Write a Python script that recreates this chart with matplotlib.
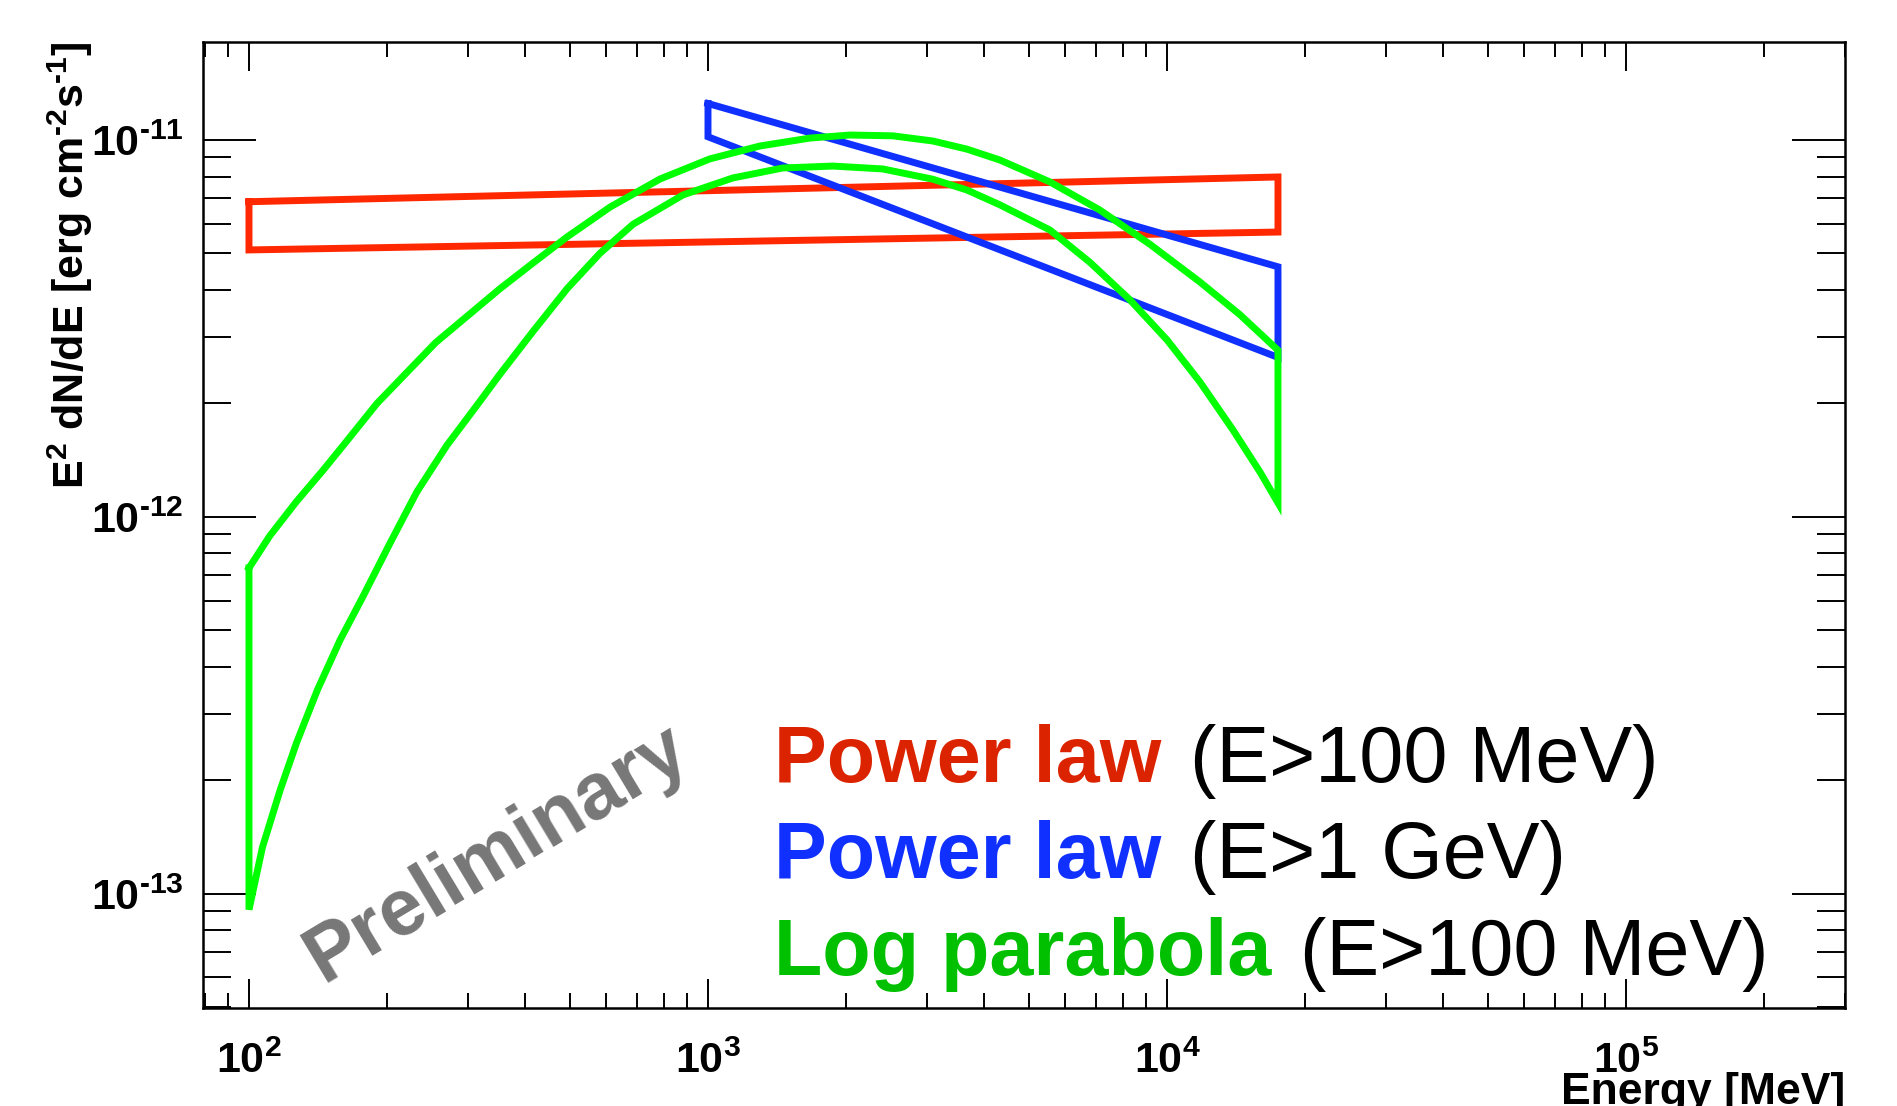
import numpy as np
import matplotlib
matplotlib.use("Agg")
import matplotlib.pyplot as plt
from matplotlib.ticker import LogLocator, FuncFormatter, NullFormatter

plt.rcParams['font.family'] = 'Liberation Sans'
plt.rcParams['mathtext.fontset'] = 'custom'
plt.rcParams['mathtext.rm'] = 'Liberation Sans:bold'
plt.rcParams['mathtext.it'] = 'Liberation Sans:bold'
plt.rcParams['mathtext.bf'] = 'Liberation Sans:bold'
plt.rcParams['mathtext.default'] = 'rm'

# power law, E>100 MeV (butterfly edges)
red_e = [100, 17450]
red_hi = [6.86e-12, 7.98e-12]
red_lo = [5.11e-12, 5.70e-12]

# power law, E>1 GeV
blue_e = [1000, 17450]
blue_hi = [1.25e-11, 4.61e-12]
blue_lo = [1.02e-11, 2.65e-12]

# log parabola band, upper and lower edge
green_hi_e = [100, 111, 127, 145, 164, 190, 255, 352, 416, 493, 612, 786, 1009, 1297,
              1667, 2038, 2528, 3090, 3664, 4325, 5560, 7140, 9180, 11800, 14420, 17450]
green_hi = [7.32e-13, 8.91e-13, 1.10e-12, 1.33e-12, 1.60e-12, 2.00e-12, 2.90e-12, 4.03e-12,
            4.72e-12, 5.53e-12, 6.64e-12, 7.88e-12, 8.91e-12, 9.64e-12, 1.012e-11, 1.031e-11,
            1.026e-11, 9.94e-12, 9.46e-12, 8.85e-12, 7.74e-12, 6.52e-12, 5.29e-12, 4.20e-12,
            3.44e-12, 2.77e-12]
green_lo_e = [100, 107, 117, 127, 141, 158, 177, 203, 232, 270, 314, 352, 416, 493, 582, 687,
              882, 1132, 1455, 1870, 2404, 3090, 3664, 4325, 5560, 6790, 8300, 10000, 11800,
              13930, 15950, 17450]
green_lo = [9.08e-14, 1.33e-13, 1.89e-13, 2.52e-13, 3.48e-13, 4.72e-13, 6.14e-13, 8.53e-13,
            1.164e-12, 1.55e-12, 1.98e-12, 2.39e-12, 3.11e-12, 4.03e-12, 5.01e-12, 5.98e-12,
            7.15e-12, 7.93e-12, 8.43e-12, 8.53e-12, 8.38e-12, 7.87e-12, 7.37e-12, 6.73e-12,
            5.77e-12, 4.74e-12, 3.77e-12, 2.95e-12, 2.28e-12, 1.70e-12, 1.315e-12, 1.09e-12]

legend_bold = ["Power law", "Power law", "Log parabola"]
legend_rest = ["(E>100 MeV)", "(E>1 GeV)", "(E>100 MeV)"]
legend_colors = ["#dc2300", "#1030ff", "#00c000"]


def band(e_hi, hi, e_lo, lo):
    # closed outline: upper edge, then lower edge backwards
    x = list(e_hi) + list(e_lo)[::-1] + [e_hi[0]]
    y = list(hi) + list(lo)[::-1] + [hi[0]]
    return x, y


def exp_label(v, pos):
    n = int(round(np.log10(v)))
    if n < 0:
        return r'$10^{\text{-}%d}$' % (-n)
    return r'$10^{%d}$' % n


fig = plt.figure(figsize=(18.97, 11.06), dpi=100)
ax = fig.add_axes([203 / 1897, 1 - 1008 / 1106, 1642 / 1897, 966 / 1106])

lw = 5.0
x, y = band(red_e, red_hi, red_e, red_lo)
ax.plot(x, y, color="#ff2800", lw=lw, solid_joinstyle='miter')
x, y = band(blue_e, blue_hi, blue_e, blue_lo)
ax.plot(x, y, color="#1030ff", lw=lw, solid_joinstyle='miter')
x, y = band(green_hi_e, green_hi, green_lo_e, green_lo)
ax.plot(x, y, color="#00ff00", lw=lw, solid_joinstyle='miter')

ax.set_xscale('log')
ax.set_yscale('log')
ax.set_xlim(79.4, 3.0e5)
ax.set_ylim(4.98e-14, 1.82e-11)

for axis in (ax.xaxis, ax.yaxis):
    axis.set_major_locator(LogLocator(base=10, numticks=20))
    axis.set_minor_locator(LogLocator(base=10, subs=np.arange(2, 10), numticks=20))
    axis.set_major_formatter(FuncFormatter(exp_label))
    axis.set_minor_formatter(NullFormatter())

ax.tick_params(which='both', direction='in', top=True, right=True, width=1.4, labelsize=31)
ax.tick_params(axis='x', which='major', length=21, pad=24)
ax.tick_params(axis='x', which='minor', length=10.5)
ax.tick_params(axis='y', which='major', length=38, pad=14)
ax.tick_params(axis='y', which='minor', length=20)
for s in ax.spines.values():
    s.set_linewidth(1.8)

ax.set_ylabel(r'$E^{2}\ dN/dE\ [erg\ cm^{\text{-}2}s^{\text{-}1}]$', fontsize=31, loc='top')
ax.yaxis.set_label_coords(-0.066, 1.0)
ax.set_xlabel('Energy [MeV]', fontsize=32, fontweight='bold', loc='right')
ax.xaxis.set_label_coords(1.0, -0.066)

ax.text(0.179, 0.16, "Preliminary", transform=ax.transAxes, fontsize=57,
        fontweight='bold', color='#777777', rotation=31, ha='center', va='center')

renderer = fig.canvas.get_renderer()
baselines = [0.234, 0.1346, 0.0342]
for b, r, c, yb in zip(legend_bold, legend_rest, legend_colors, baselines):
    t = ax.text(0.3478, yb, b, transform=ax.transAxes, fontsize=57,
                fontweight='bold', color=c, va='baseline')
    bb = t.get_window_extent(renderer)
    xr = ax.transAxes.inverted().transform((bb.x1 + 29, 0))[0]
    ax.text(xr, yb, r, transform=ax.transAxes, fontsize=57, color='black', va='baseline')

fig.savefig("out.png", dpi=100)
